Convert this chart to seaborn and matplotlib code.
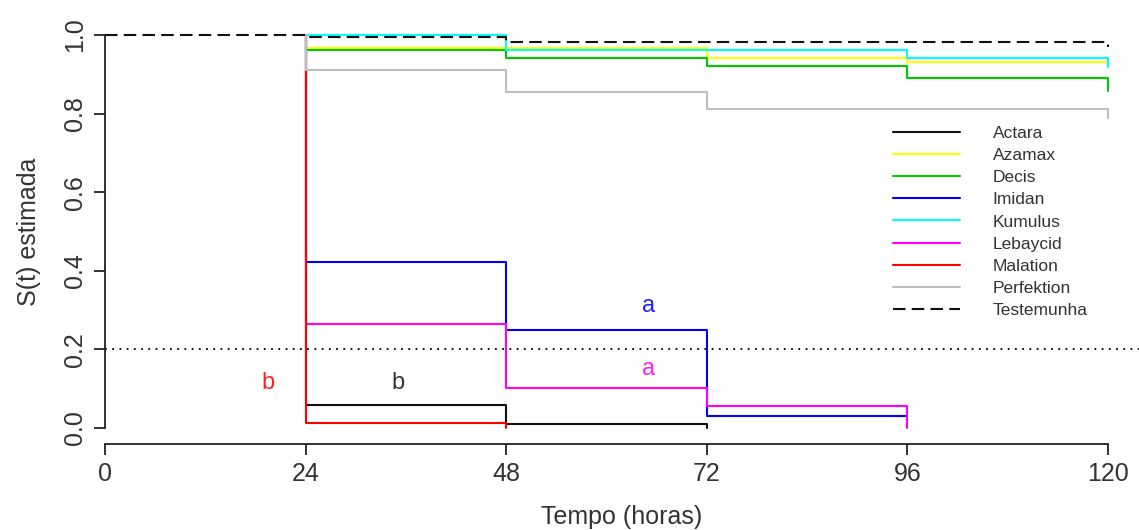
import numpy as np
import pandas as pd
import matplotlib
matplotlib.use("Agg")
import matplotlib.pyplot as plt
import seaborn as sns

# estimated survival curves (time in hours, S(t)); each treatment starts at S=1 at 24 h
tratamentos = ["Actara", "Azamax", "Decis", "Imidan", "Kumulus",
               "Lebaycid", "Malation", "Perfektion", "Testemunha"]

actara_t = [24, 24, 48, 72]
actara_s = [1.0, 0.058, 0.010, 0.0]
azamax_t = [24, 24, 48, 72, 96, 120]
azamax_s = [1.0, 0.968, 0.968, 0.941, 0.932, 0.925]
decis_t = [24, 24, 48, 72, 96, 120]
decis_s = [1.0, 0.963, 0.941, 0.922, 0.890, 0.858]
imidan_t = [24, 24, 48, 72, 96]
imidan_s = [1.0, 0.423, 0.249, 0.031, 0.031]
kumulus_t = [24, 24, 48, 72, 96, 120]
kumulus_s = [1.0, 1.0, 0.963, 0.963, 0.941, 0.919]
lebaycid_t = [24, 24, 48, 72, 96]
lebaycid_s = [1.0, 0.264, 0.101, 0.057, 0.0]
malation_t = [24, 24, 48]
malation_s = [1.0, 0.012, 0.0]
perfektion_t = [24, 24, 48, 72, 96, 120]
perfektion_s = [1.0, 0.911, 0.856, 0.811, 0.811, 0.788]
testemunha_t = [0, 24, 48, 72, 96, 120]
testemunha_s = [1.0, 0.994, 0.983, 0.983, 0.983, 0.970]

cores = ["#111111", "#ffff00", "#00cd00", "#0000ff", "#00ffff",
         "#ff00ff", "#ff0000", "#bebebe", "#111111"]

# group letters written on the plot
letras = ["b", "b", "a", "a"]
letras_x = [19.5, 35.0, 65.0, 65.0]
letras_y = [0.115, 0.115, 0.31, 0.15]
letras_cor = ["#ff2020", "#333333", "#2020ff", "#ff20ff"]

tempos = [actara_t, azamax_t, decis_t, imidan_t, kumulus_t,
          lebaycid_t, malation_t, perfektion_t, testemunha_t]
surv = [actara_s, azamax_s, decis_s, imidan_s, kumulus_s,
        lebaycid_s, malation_s, perfektion_s, testemunha_s]

frames = []
for nome, t, s in zip(tratamentos, tempos, surv):
    frames.append(pd.DataFrame({"tempo": t, "S": s, "tratamento": nome}))
df = pd.concat(frames, ignore_index=True)

sns.set_style("ticks")
plt.rcParams["font.family"] = ["Liberation Sans", "DejaVu Sans"]

fig = plt.figure(figsize=(11.39, 5.30), dpi=100)
ax = fig.add_axes([105 / 1139, 86.3 / 530, 1034 / 1139, 424.4 / 530])

dashes = {n: "" for n in tratamentos}
dashes["Testemunha"] = (6, 3)
sns.lineplot(data=df, x="tempo", y="S", hue="tratamento", style="tratamento",
             hue_order=tratamentos, style_order=tratamentos,
             palette=dict(zip(tratamentos, cores)), dashes=dashes,
             estimator=None, sort=False, drawstyle="steps-post",
             linewidth=1.5, legend=False, ax=ax)

handles = list(ax.get_lines())[:len(tratamentos)]

ax.axhline(0.2, color="black", linestyle=(0, (1, 3)), linewidth=1.3)

for txt, x, y, c in zip(letras, letras_x, letras_y, letras_cor):
    ax.text(x, y, txt, color=c, fontsize=17, ha="center", va="center")

ax.set_xlim(0, 1034 / (1003 / 120))
ax.set_ylim(-0.04, 1.04)
ax.set_xticks([0, 24, 48, 72, 96, 120])
ax.set_yticks([0.0, 0.2, 0.4, 0.6, 0.8, 1.0])
ax.set_yticklabels(["0.0", "0.2", "0.4", "0.6", "0.8", "1.0"], rotation=90, va="center")

for side in ["top", "right"]:
    ax.spines[side].set_visible(False)
ax.spines["bottom"].set_bounds(0, 120)
ax.spines["left"].set_bounds(0, 1)
for side in ["bottom", "left"]:
    ax.spines[side].set_color("#222222")
    ax.spines[side].set_linewidth(1.3)
ax.tick_params(axis="both", which="major", direction="out", bottom=True, left=True,
               length=8, width=1.3, color="#222222",
               labelsize=18, labelcolor="#333333", pad=5)

ax.set_xlabel("Tempo (horas)", fontsize=18, color="#333333", labelpad=14)
ax.set_ylabel("S(t) estimada", fontsize=18, color="#333333", labelpad=16)

leg = ax.legend(handles, tratamentos, loc="upper left",
                bbox_to_anchor=(893 / 1139, 1 - 126 / 530),
                bbox_transform=fig.transFigure, frameon=False,
                borderpad=0, borderaxespad=0, handlelength=3.85,
                handletextpad=1.9, labelspacing=0.40,
                prop={"size": 12.5})
for t in leg.get_texts():
    t.set_color("#333333")

fig.savefig("out.png", dpi=100)
